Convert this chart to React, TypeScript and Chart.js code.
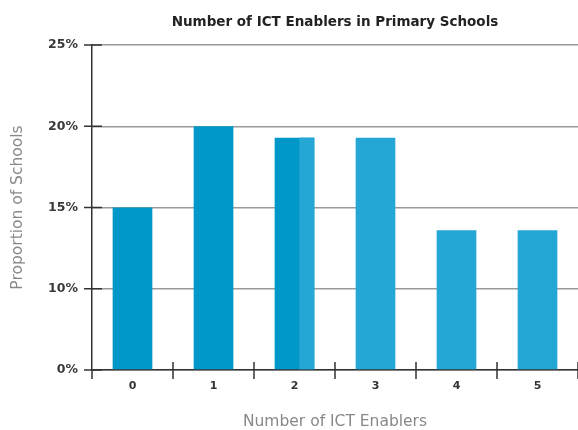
import React, { useEffect, useRef } from "react";
import { Chart, registerables, LinearScale } from "chart.js";

Chart.register(...registerables);

const categories = ["0", "1", "2", "3", "4", "5"];
const proportions = [15.0, 20.0, 19.3, 19.3, 13.6, 13.6];
const yTicks = [0, 10, 15, 20, 25];
const chartTitle = "Number of ICT Enablers in Primary Schools";
const xTitle = "Number of ICT Enablers";
const yTitle = "Proportion of Schools";

const DARK = "#0098c8";
const LIGHT = "#25a7d5";
const barColors = [DARK, DARK, DARK, LIGHT, LIGHT, LIGHT];

class BrokenScale extends (LinearScale as any) {
  static id = "broken";
  static defaults = (LinearScale as any).defaults;
  buildTicks() {
    return yTicks.map((v) => ({ value: v }));
  }
  getPixelForValue(value: number) {
    if (value === null || value === undefined || isNaN(value)) return NaN;
    const b = yTicks;
    const n = b.length - 1;
    let f = 0;
    if (value <= b[0]) f = 0;
    else if (value >= b[n]) f = 1 + (value - b[n]) / (b[n] - b[n - 1]) / n;
    else {
      for (let i = 0; i < n; i++) {
        if (value <= b[i + 1]) {
          f = (i + (value - b[i]) / (b[i + 1] - b[i])) / n;
          break;
        }
      }
    }
    return (this as any).getPixelForDecimal(f);
  }
  getValueForPixel(pixel: number) {
    const d = (this as any).getDecimalForPixel(pixel);
    const b = yTicks;
    const n = b.length - 1;
    const pos = Math.max(0, Math.min(n, d * n));
    const i = Math.min(n - 1, Math.floor(pos));
    return b[i] + (pos - i) * (b[i + 1] - b[i]);
  }
}
Chart.register(BrokenScale as any);

const decorPlugin = {
  id: "decor",
  afterDatasetsDraw(chart: any) {
    const ctx = chart.ctx;
    const meta = chart.getDatasetMeta(0);
    const el = meta.data[2];
    if (el) {
      const { x, y, base, width } = el.getProps(["x", "y", "base", "width"], true);
      const left = x - width / 2;
      const split = left + width * 0.62;
      ctx.save();
      ctx.fillStyle = LIGHT;
      ctx.fillRect(split, y, left + width - split, base - y);
      ctx.restore();
    }
  },
  afterDraw(chart: any) {
    const ctx = chart.ctx;
    const { left, right, bottom } = chart.chartArea;
    const yScale = chart.scales.y;
    ctx.save();
    ctx.strokeStyle = "#333333";
    ctx.lineWidth = 1.5;
    ctx.beginPath();
    yTicks.forEach((v) => {
      const py = yScale.getPixelForValue(v);
      ctx.moveTo(left - 8, py);
      ctx.lineTo(left + 10, py);
    });
    const n = categories.length;
    const w = (right - left) / n;
    for (let k = 0; k <= n; k++) {
      const px = left + k * w;
      ctx.moveTo(px, bottom - (k === 0 ? 0 : 8));
      ctx.lineTo(px, bottom + 9);
    }
    ctx.stroke();
    ctx.restore();
  },
};

export default function App() {
  const ref = useRef<HTMLCanvasElement>(null);
  useEffect(() => {
    if (!ref.current) return;
    const chart = new Chart(ref.current, {
      type: "bar",
      data: {
        labels: categories,
        datasets: [
          {
            data: proportions,
            backgroundColor: barColors,
            borderWidth: 0,
            barPercentage: 0.49,
            categoryPercentage: 1,
          },
        ],
      },
      options: {
        animation: false,
        responsive: false,
        layout: { padding: { left: 0, right: 0, top: 0, bottom: 0 } },
        plugins: {
          legend: { display: false },
          tooltip: { enabled: false },
          title: {
            display: true,
            fullSize: false,
            text: chartTitle,
            color: "#222222",
            font: { family: "DejaVu Sans", size: 13.5, weight: "bold" },
            padding: { top: 14, bottom: 14.8 },
          },
        },
        scales: {
          x: {
            type: "category",
            offset: true,
            grid: { display: false, drawTicks: false },
            border: { display: true, color: "#333333", width: 1.5 },
            ticks: {
              color: "#333333",
              font: { family: "DejaVu Sans", size: 11, weight: "bold" },
              padding: 10,
            },
            title: {
              display: true,
              text: xTitle,
              color: "#888888",
              font: { family: "DejaVu Sans", size: 15.5, lineHeight: 1 },
              padding: { top: 0, bottom: 0 },
            },
            afterFit: (s: any) => {
              s.height = 60;
            },
          } as any,
          y: {
            type: "broken",
            min: 0,
            max: 25,
            grid: { color: "#9a9a9a", lineWidth: 1.5, drawTicks: false },
            border: { display: true, color: "#333333", width: 1.5 },
            ticks: {
              color: "#3a3a3a",
              font: { family: "DejaVu Sans", size: 12.5, weight: "bold" },
              padding: 14,
              callback: (v: any) => v + "%",
            },
            title: {
              display: true,
              text: yTitle,
              color: "#888888",
              font: { family: "DejaVu Sans", size: 15.5, lineHeight: 1 },
              padding: { top: 10, bottom: 0 },
            },
            afterFit: (s: any) => {
              s.width = 92;
            },
          } as any,
        },
      },
      plugins: [decorPlugin],
    } as any);
    return () => chart.destroy();
  }, []);
  return (
    <div style={{ position: "fixed", left: 0, top: 0, width: 578, height: 430, background: "#fff" }}>
      <canvas ref={ref} width={578} height={430} />
    </div>
  );
}
